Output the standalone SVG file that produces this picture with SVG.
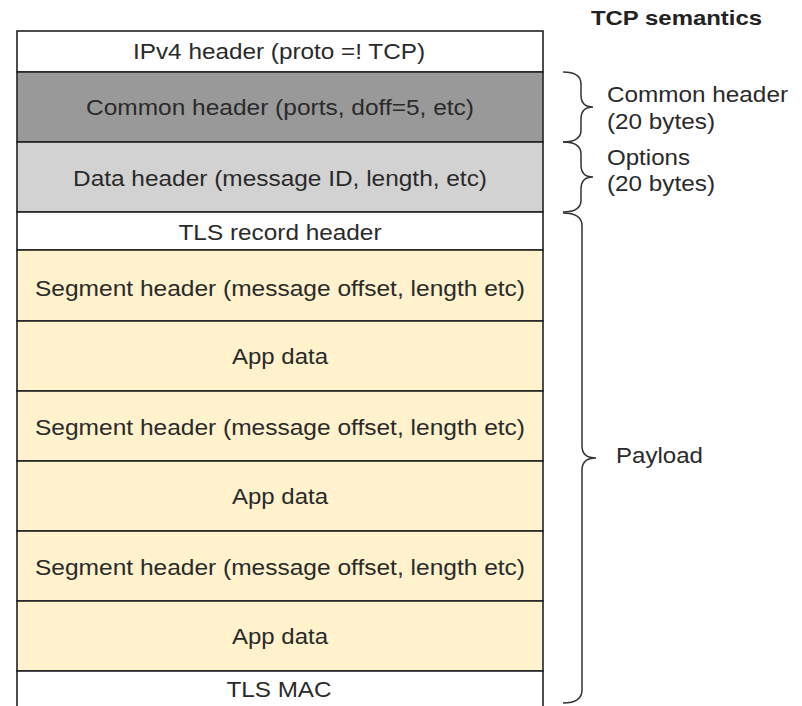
<svg xmlns="http://www.w3.org/2000/svg" width="802" height="706" viewBox="0 0 802 706">
<style>
.box{stroke:#222;stroke-width:1.6}
.t{font-family:"Liberation Sans",Arial,sans-serif;font-size:22px;fill:#2a2a2a;text-anchor:middle}
.l{font-family:"Liberation Sans",Arial,sans-serif;font-size:22px;fill:#2a2a2a}
.brace{fill:none;stroke:#333;stroke-width:1.5}
</style>
<rect width="802" height="706" fill="#fff"/>
<g id="ipv4"><rect class="box" x="17" y="31" width="526" height="41" fill="#fff"/><text class="t" x="279" y="59" textLength="292" lengthAdjust="spacingAndGlyphs">IPv4 header (proto =! TCP)</text></g>
<g id="common"><rect class="box" x="17" y="72" width="526" height="70" fill="#999999"/><text class="t" x="280" y="115" textLength="388" lengthAdjust="spacingAndGlyphs">Common header (ports, doff=5, etc)</text></g>
<g id="data"><rect class="box" x="17" y="142" width="526" height="70" fill="#d2d2d2"/><text class="t" x="280" y="185.5" textLength="414" lengthAdjust="spacingAndGlyphs">Data header (message ID, length, etc)</text></g>
<g id="tlsrec"><rect class="box" x="17" y="212" width="526" height="38" fill="#fff"/><text class="t" x="280" y="240" textLength="203" lengthAdjust="spacingAndGlyphs">TLS record header</text></g>
<g id="seg1"><rect class="box" x="17" y="250" width="526" height="71" fill="#fff2cc"/><text class="t" x="280" y="295.5" textLength="490" lengthAdjust="spacingAndGlyphs">Segment header (message offset, length etc)</text></g>
<g id="app1"><rect class="box" x="17" y="321" width="526" height="70" fill="#fff2cc"/><text class="t" x="280" y="363.5" textLength="96" lengthAdjust="spacingAndGlyphs">App data</text></g>
<g id="seg2"><rect class="box" x="17" y="391" width="526" height="70" fill="#fff2cc"/><text class="t" x="280" y="435" textLength="490" lengthAdjust="spacingAndGlyphs">Segment header (message offset, length etc)</text></g>
<g id="app2"><rect class="box" x="17" y="461" width="526" height="70" fill="#fff2cc"/><text class="t" x="280" y="503.5" textLength="96" lengthAdjust="spacingAndGlyphs">App data</text></g>
<g id="seg3"><rect class="box" x="17" y="531" width="526" height="70" fill="#fff2cc"/><text class="t" x="280" y="575" textLength="490" lengthAdjust="spacingAndGlyphs">Segment header (message offset, length etc)</text></g>
<g id="app3"><rect class="box" x="17" y="601" width="526" height="70" fill="#fff2cc"/><text class="t" x="280" y="643.5" textLength="96" lengthAdjust="spacingAndGlyphs">App data</text></g>
<g id="tlsmac"><rect class="box" x="17" y="671" width="526" height="45" fill="#fff"/><text class="t" x="279" y="696.5" textLength="105" lengthAdjust="spacingAndGlyphs">TLS MAC</text></g>
<g id="braces">
<path class="brace" d="M563 72 Q581 72 581 84 L581 95 Q581 107 593 107 Q581 107 581 119 L581 130 Q581 142 563 142"/>
<path class="brace" d="M563 142 Q581 142 581 154 L581 165 Q581 177 593 177 Q581 177 581 189 L581 200 Q581 212 563 212"/>
<path class="brace" d="M563 213 Q582 213 582 226 L582 446 Q582 458 596 458 Q582 458 582 470 L582 690 Q582 703 563 703"/>
</g>
<g id="labels">
<text x="591" y="25" font-family="Liberation Sans,Arial,sans-serif" font-size="21" font-weight="bold" fill="#222" textLength="171" lengthAdjust="spacingAndGlyphs">TCP semantics</text>
<text class="l" x="607" y="101.5" textLength="181" lengthAdjust="spacingAndGlyphs">Common header</text>
<text class="l" x="607" y="129" textLength="108" lengthAdjust="spacingAndGlyphs">(20 bytes)</text>
<text class="l" x="607" y="165" textLength="83" lengthAdjust="spacingAndGlyphs">Options</text>
<text class="l" x="607" y="191" textLength="108" lengthAdjust="spacingAndGlyphs">(20 bytes)</text>
<text class="l" x="616" y="463" textLength="87" lengthAdjust="spacingAndGlyphs">Payload</text>
</g>
</svg>
